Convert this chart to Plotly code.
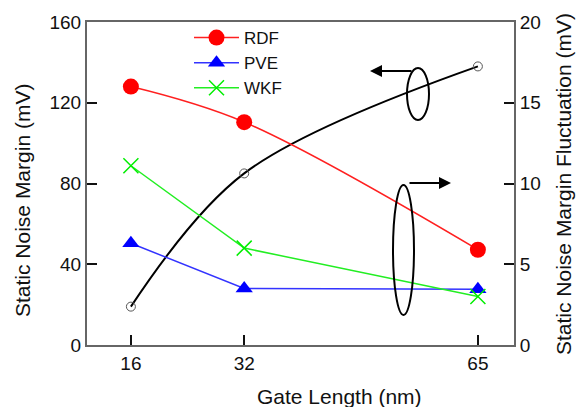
import plotly.graph_objects as go

gate_length = [16, 32, 65]
snm = [19, 85, 138]             # left axis (mV)
rdf = [16.0, 13.8, 5.9]         # right axis (mV)
pve = [6.3, 3.5, 3.45]
wkf = [11.1, 6.0, 3.0]
x_ticks = [16, 32, 65]
left_ticks = [0, 40, 80, 120, 160]
right_ticks = [0, 5, 10, 15, 20]

FONT = "Liberation Sans, Arial, sans-serif"

W, H = 576, 407
L, R, T, B = 87, 62, 22, 62
PW, PH = W - L - R, H - T - B


def px(xp):
    return (xp - L) / PW


def py(yp):
    return (H - B - yp) / PH


fig = go.Figure()

fig.add_trace(go.Scatter(
    x=gate_length, y=snm, yaxis="y", mode="lines+markers",
    line=dict(color="black", width=2, shape="spline", smoothing=1),
    marker=dict(symbol="circle-open", size=9, color="#555", line=dict(width=1)),
    showlegend=False, cliponaxis=False))

fig.add_trace(go.Scatter(
    x=gate_length, y=rdf, yaxis="y2", mode="lines+markers", name="RDF",
    line=dict(color="#ff2020", width=1.5, shape="spline", smoothing=1),
    marker=dict(symbol="circle", size=16, color="#ff0000"), cliponaxis=False))

fig.add_trace(go.Scatter(
    x=gate_length, y=pve, yaxis="y2", mode="lines+markers", name="PVE",
    line=dict(color="#3333ff", width=1.5),
    marker=dict(symbol="triangle-up", size=15, color="#0000ff"), cliponaxis=False))

fig.add_trace(go.Scatter(
    x=gate_length, y=wkf, yaxis="y2", mode="lines+markers", name="WKF",
    line=dict(color="#22ee22", width=1.5),
    marker=dict(symbol="x-thin-open", size=15, color="#00ee00",
                line=dict(width=1.5, color="#00ee00")), cliponaxis=False))

axis_common = dict(
    showgrid=False, zeroline=False, showline=True, linecolor="#666", linewidth=2,
    ticks="inside", ticklen=10, tickwidth=2, tickcolor="#111",
    tickfont=dict(family=FONT, size=19, color="#111"),
)

fig.update_layout(
    width=W, height=H,
    margin=dict(l=L, r=R, t=T, b=B),
    paper_bgcolor="white", plot_bgcolor="white",
    font=dict(family=FONT, color="#111"),
    xaxis=dict(range=[9.8, 70.1], tickvals=x_ticks, mirror=True, **axis_common),
    yaxis=dict(range=[0, 160], tickvals=left_ticks, **axis_common),
    yaxis2=dict(range=[0, 20], tickvals=right_ticks, overlaying="y", side="right",
                **axis_common),
    legend=dict(x=px(189), y=py(20), xanchor="left", yanchor="top",
                bgcolor="rgba(0,0,0,0)", font=dict(family=FONT, size=17, color="#111"),
                tracegroupgap=0, itemwidth=45),
    showlegend=True,
)

# Axis titles as text annotations
fig.add_annotation(x=px(339), y=py(396), xref="paper", yref="paper",
                   xanchor="center", yanchor="middle",
                   text="Gate Length (nm)", showarrow=False,
                   font=dict(family=FONT, size=21, color="#111"))
fig.add_annotation(x=px(22), y=py(201), xref="paper", yref="paper",
                   xanchor="center", yanchor="middle",
                   text="Static Noise Margin (mV)", textangle=-90, showarrow=False,
                   font=dict(family=FONT, size=21, color="#111"))
fig.add_annotation(x=px(563), y=py(184), xref="paper", yref="paper",
                   xanchor="center", yanchor="middle",
                   text="Static Noise Margin Fluctuation (mV)", textangle=-90, showarrow=False,
                   font=dict(family=FONT, size=21, color="#111"))

# Ellipses
fig.add_shape(type="circle", xref="paper", yref="paper",
              x0=px(407), x1=px(429), y0=py(120), y1=py(68),
              line=dict(color="black", width=2), layer="above")
fig.add_shape(type="circle", xref="paper", yref="paper",
              x0=px(393), x1=px(414), y0=py(315), y1=py(185),
              line=dict(color="black", width=2), layer="above")

# Arrows
fig.add_annotation(x=px(370), y=py(71), xref="paper", yref="paper", text="",
                   showarrow=True, ax=43, ay=0, arrowhead=2, arrowsize=1.2,
                   arrowwidth=2, arrowcolor="black")
fig.add_annotation(x=px(451), y=py(183), xref="paper", yref="paper", text="",
                   showarrow=True, ax=-43, ay=0, arrowhead=2, arrowsize=1.2,
                   arrowwidth=2, arrowcolor="black")

fig.write_html("out.html")
